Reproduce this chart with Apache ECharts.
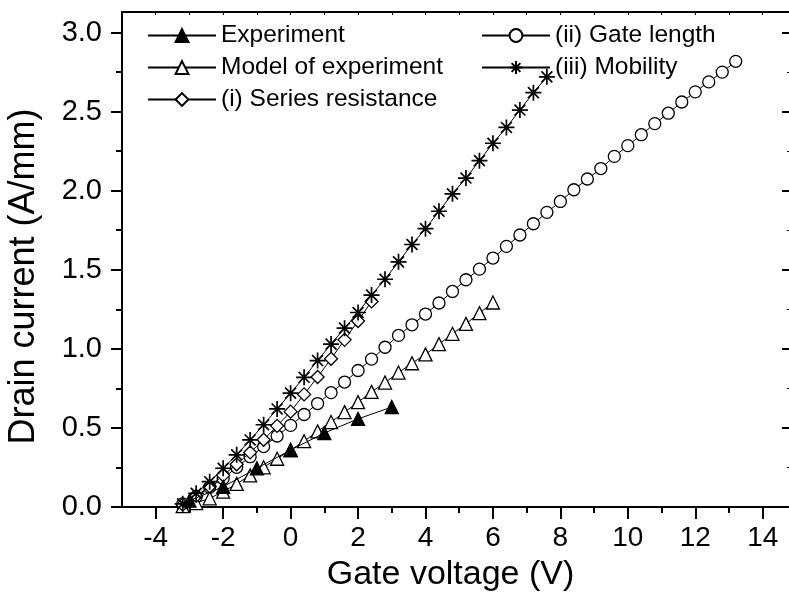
<!DOCTYPE html>
<html><head><meta charset="utf-8">
<script src="https://cdn.jsdelivr.net/npm/echarts@6/dist/echarts.min.js"></script>
<style>html,body{margin:0;padding:0;background:#fff}#c{width:789px;height:607px}</style>
</head><body><div id="c"></div>
<script>
const xTickLabels = [-4, -2, 0, 2, 4, 6, 8, 10, 12, 14];
const xMinorTicks = [-3, -1, 1, 3, 5, 7, 9, 11, 13];
const xTopTicks = [-4, -3, -2, -1, 0, 1, 2, 3, 4, 5, 6, 7, 8, 9, 10, 11, 12, 13, 14];
const yTickLabels = [0, 0.5, 1, 1.5, 2, 2.5, 3];
const yMinorTicks = [0.25, 0.75, 1.25, 1.75, 2.25, 2.75];

const experimentV = [-3, -2, -1, 0, 1, 2, 3];
const experimentI = [0.04, 0.128, 0.245, 0.36, 0.468, 0.557, 0.632];

const modelV = [-3.2, -2.8, -2.4, -2.0, -1.6, -1.2, -0.8, -0.4, 0, 0.4, 0.8, 1.2, 1.6, 2.0, 2.4, 2.8, 3.2, 3.6, 4.0, 4.4, 4.8, 5.2, 5.6, 6.0];
const modelI = [0.005, 0.025, 0.055, 0.097, 0.146, 0.2, 0.251, 0.305, 0.36, 0.416, 0.478, 0.537, 0.6, 0.663, 0.728, 0.787, 0.85, 0.909, 0.965, 1.03, 1.095, 1.158, 1.226, 1.293];

const seriesResV = [-3.2, -2.8, -2.4, -2.0, -1.6, -1.2, -0.8, -0.4, 0, 0.4, 0.8, 1.2, 1.6, 2.0, 2.4];
const seriesResI = [0.015, 0.07, 0.13, 0.2, 0.27, 0.345, 0.425, 0.513, 0.603, 0.712, 0.822, 0.937, 1.057, 1.176, 1.3];

const gateV = [-3.2, -2.8, -2.4, -2.0, -1.6, -1.2, -0.8, -0.4, 0, 0.4, 0.8, 1.2, 1.6, 2.0, 2.4, 2.8, 3.2, 3.6, 4.0, 4.4, 4.8, 5.2, 5.6, 6.0, 6.4, 6.8, 7.2, 7.6, 8.0, 8.4, 8.8, 9.2, 9.6, 10.0, 10.4, 10.8, 11.2, 11.6, 12.0, 12.4, 12.8, 13.2];
const gateI = [0.02, 0.065, 0.125, 0.18, 0.251, 0.318, 0.382, 0.449, 0.516, 0.585, 0.654, 0.723, 0.79, 0.863, 0.935, 1.01, 1.085, 1.152, 1.22, 1.29, 1.363, 1.437, 1.504, 1.574, 1.648, 1.72, 1.791, 1.863, 1.932, 2.006, 2.074, 2.14, 2.217, 2.285, 2.354, 2.424, 2.49, 2.561, 2.625, 2.688, 2.75, 2.818];

const mobilityV = [-3.2, -2.8, -2.4, -2.0, -1.6, -1.2, -0.8, -0.4, 0, 0.4, 0.8, 1.2, 1.6, 2.0, 2.4, 2.8, 3.2, 3.6, 4.0, 4.4, 4.8, 5.2, 5.6, 6.0, 6.4, 6.8, 7.2, 7.6];
const mobilityI = [0.02, 0.087, 0.16, 0.245, 0.33, 0.424, 0.52, 0.62, 0.72, 0.82, 0.926, 1.03, 1.131, 1.23, 1.34, 1.44, 1.55, 1.66, 1.76, 1.87, 1.98, 2.08, 2.19, 2.30, 2.40, 2.51, 2.62, 2.72];

const names = ['Experiment', 'Model of experiment', '(i) Series resistance', '(ii) Gate length', '(iii) Mobility'];

const FONT = 'Liberation Sans, Arial, sans-serif';
const zip = (a, b) => a.map((v, i) => [v, b[i]]);
const starPath = 'path://M5,0L5,10M0,5L10,5M1.6,1.6L8.4,8.4M8.4,1.6L1.6,8.4';

const gridBox = {left: 122, top: 12, right: 0, bottom: 100, outerBoundsMode: 'none', containLabel: false};
const XMIN = -5, XMAX = 14.78, YMIN = 0, YMAX = 3.13;

function mk(name, xs, ys, symbol, size, fill, z) {
  const isStar = symbol === starPath;
  return {
    name: name, type: 'line', data: zip(xs, ys), xAxisIndex: 0, yAxisIndex: 0,
    symbol: symbol, symbolSize: size, showSymbol: true, z: z,
    lineStyle: {color: '#000', width: 1},
    itemStyle: {color: fill, borderColor: '#000', borderWidth: isStar ? 1.7 : 1.3},
    emphasis: {disabled: true}
  };
}

const legendText = {fontFamily: FONT, fontSize: 24.5, color: '#000', lineHeight: 24};

const chart = echarts.init(document.getElementById('c'), null, {renderer: 'canvas'});
chart.setOption({
  animation: false,
  backgroundColor: '#fff',
  textStyle: {fontFamily: FONT, color: '#000'},
  grid: [Object.assign({}, gridBox), Object.assign({}, gridBox)],
  legend: [
    {
      data: names.slice(0, 3), orient: 'vertical', left: 142, top: 18,
      itemWidth: 68, itemHeight: 16, itemGap: 7,
      textStyle: legendText, selectedMode: false
    },
    {
      data: names.slice(3), orient: 'vertical', left: 476, top: 18,
      itemWidth: 68, itemHeight: 16, itemGap: 7,
      textStyle: legendText, selectedMode: false
    }
  ],
  xAxis: [
    {
      type: 'value', gridIndex: 0, position: 'bottom', min: XMIN, max: XMAX,
      name: 'Gate voltage (V)', nameLocation: 'middle', nameGap: 51,
      nameTextStyle: {fontFamily: FONT, fontSize: 34, color: '#000', padding: [0, 10, 0, 0]},
      axisLine: {show: true, onZero: false, lineStyle: {color: '#000', width: 2}},
      axisTick: {show: true, customValues: xTickLabels, length: 12, lineStyle: {color: '#000', width: 2}},
      axisLabel: {customValues: xTickLabels, fontFamily: FONT, fontSize: 28, color: '#000', margin: 17},
      splitLine: {show: false}
    },
    {
      type: 'value', gridIndex: 0, position: 'top', min: XMIN, max: XMAX,
      axisLine: {show: true, onZero: false, lineStyle: {color: '#000', width: 2}},
      axisTick: {show: true, inside: true, customValues: xTopTicks, length: 3, lineStyle: {color: '#000', width: 1}},
      axisLabel: {show: false}, splitLine: {show: false}
    },
    {
      type: 'value', gridIndex: 1, position: 'bottom', min: XMIN, max: XMAX,
      axisLine: {show: false, onZero: false},
      axisTick: {show: true, customValues: xMinorTicks, length: 6, lineStyle: {color: '#000', width: 2}},
      axisLabel: {show: false}, splitLine: {show: false}
    }
  ],
  yAxis: [
    {
      type: 'value', gridIndex: 0, position: 'left', min: YMIN, max: YMAX,
      name: 'Drain current (A/mm)', nameLocation: 'middle', nameGap: 80,
      nameTextStyle: {fontFamily: FONT, fontSize: 36, color: '#000', padding: [0, 34, 0, 0]},
      axisLine: {show: true, onZero: false, lineStyle: {color: '#000', width: 2}},
      axisTick: {show: true, customValues: yTickLabels, length: 11, lineStyle: {color: '#000', width: 2}},
      axisLabel: {customValues: yTickLabels, formatter: v => v.toFixed(1), fontFamily: FONT, fontSize: 29, color: '#000', margin: 20},
      splitLine: {show: false}
    },
    {
      type: 'value', gridIndex: 0, position: 'right', min: YMIN, max: YMAX,
      axisLine: {show: false, onZero: false},
      axisTick: {show: true, inside: true, customValues: yTickLabels, length: 7, lineStyle: {color: '#000', width: 2}},
      axisLabel: {show: false}, splitLine: {show: false}
    },
    {
      type: 'value', gridIndex: 1, position: 'left', min: YMIN, max: YMAX,
      axisLine: {show: false, onZero: false},
      axisTick: {show: true, customValues: yMinorTicks, length: 6, lineStyle: {color: '#000', width: 2}},
      axisLabel: {show: false}, splitLine: {show: false}
    },
    {
      type: 'value', gridIndex: 1, position: 'right', min: YMIN, max: YMAX,
      axisLine: {show: false, onZero: false},
      axisTick: {show: true, inside: true, customValues: yMinorTicks, length: 2, lineStyle: {color: '#000', width: 1}},
      axisLabel: {show: false}, splitLine: {show: false}
    }
  ],
  series: [
    mk(names[3], gateV, gateI, 'circle', 12, '#fff', 2),
    mk(names[1], modelV, modelI, 'triangle', 13, '#fff', 3),
    mk(names[2], seriesResV, seriesResI, 'diamond', 13, '#fff', 4),
    mk(names[4], mobilityV, mobilityI, starPath, 16, 'rgba(0,0,0,0)', 5),
    mk(names[0], experimentV, experimentI, 'triangle', 13, '#000', 6)
  ]
});
</script>
</body></html>
